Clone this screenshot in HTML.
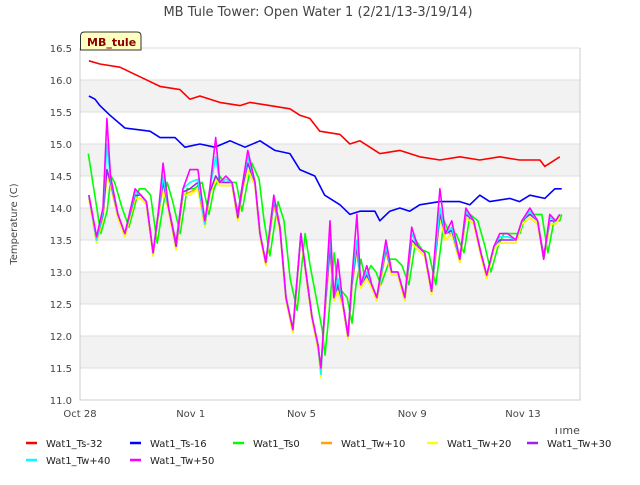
<!DOCTYPE html>
<html><head><meta charset="utf-8"><style>
body{margin:0;background:#fff;font-family:"Liberation Sans","DejaVu Sans",sans-serif}
svg text{font-family:"DejaVu Sans","Liberation Sans",sans-serif}
</style></head><body>
<svg id="c" width="640" height="480" xmlns="http://www.w3.org/2000/svg">
<text x="318" y="16" text-anchor="middle" font-size="13" fill="#444">MB Tule Tower: Open Water 1 (2/21/13-3/19/14)</text>
<g id="bands"></g>
<g id="grid"></g>
<g id="series"></g>
<g id="axes"></g>
<text transform="translate(17,224) rotate(-90)" text-anchor="middle" font-size="10" fill="#444">Temperature (C)</text>
<text x="553" y="434" font-size="11" fill="#444">Time</text>
<rect x="0" y="418" width="640" height="10" fill="#fff"/>
<g>
<path d="M80.5,50 L80.5,36 Q80.5,32 84.5,32 L137,32 Q141,32 141,36 L141,50 Z" fill="#ffffc0" stroke="#333" stroke-width="1"/>
<text x="87" y="46" font-size="11" font-weight="bold" fill="#8b0000">MB_tule</text>
</g>
<g id="legend"></g>
</svg>
<script>
const yTicks=[11.0,11.5,12.0,12.5,13.0,13.5,14.0,14.5,15.0,15.5,16.0,16.5];
const xTickLabels=["Oct 28","Nov 1","Nov 5","Nov 9","Nov 13"];
const xTickDays=[0,4,8,12,16];
const seriesNames=["Wat1_Ts-32","Wat1_Ts-16","Wat1_Ts0","Wat1_Tw+10","Wat1_Tw+20","Wat1_Tw+30","Wat1_Tw+40","Wat1_Tw+50"];
const seriesColors=["#ff0000","#0000ff","#00ff00","#ffa500","#ffff00","#a020f0","#00ffff","#ff00ff"];
const tRed=[0.32,0.72,1.44,2.17,2.89,3.61,3.97,4.33,5.05,5.78,6.14,6.86,7.58,7.94,8.3,8.66,9.39,9.75,10.11,10.47,10.83,11.55,12.27,13.0,13.72,14.44,15.16,15.88,16.61,16.79,17.33];
const vRed=[16.3,16.25,16.2,16.05,15.9,15.85,15.7,15.75,15.65,15.6,15.65,15.6,15.55,15.45,15.4,15.2,15.15,15.0,15.05,14.95,14.85,14.9,14.8,14.75,14.8,14.75,14.8,14.75,14.75,14.65,14.8];
const tBlue=[0.32,0.54,0.72,1.08,1.62,2.53,2.89,3.43,3.79,4.33,4.87,5.42,5.96,6.5,7.04,7.58,7.94,8.48,8.84,9.39,9.75,10.11,10.65,10.83,11.19,11.55,11.91,12.27,13.0,13.72,14.08,14.44,14.8,15.52,15.88,16.25,16.79,17.15,17.4];
const vBlue=[15.75,15.7,15.6,15.45,15.25,15.2,15.1,15.1,14.95,15.0,14.95,15.05,14.95,15.05,14.9,14.85,14.6,14.5,14.2,14.05,13.9,13.95,13.95,13.8,13.95,14.0,13.95,14.05,14.1,14.1,14.05,14.2,14.1,14.15,14.1,14.2,14.15,14.3,14.3];
const tW=[0.32,0.6,0.83,0.97,1.1,1.37,1.62,1.99,2.2,2.4,2.64,2.82,3.0,3.2,3.47,3.72,3.97,4.26,4.51,4.69,4.9,5.05,5.27,5.49,5.7,5.88,6.06,6.32,6.5,6.71,7.0,7.22,7.44,7.69,7.98,8.16,8.38,8.6,8.7,8.81,9.03,9.17,9.31,9.5,9.68,9.82,10.0,10.14,10.36,10.54,10.72,11.05,11.26,11.48,11.73,11.98,12.2,12.45,12.7,13.0,13.2,13.43,13.72,13.94,14.22,14.48,14.69,14.95,15.16,15.45,15.74,15.96,16.25,16.53,16.75,16.97,17.18,17.33];
const tG=[0.3,0.75,0.98,1.12,1.25,1.52,1.77,2.14,2.35,2.55,2.79,2.97,3.15,3.35,3.62,3.87,4.12,4.41,4.66,4.84,5.05,5.2,5.42,5.64,5.85,6.03,6.21,6.47,6.65,6.86,7.15,7.37,7.59,7.84,8.13,8.31,8.53,8.75,8.85,8.96,9.18,9.32,9.46,9.65,9.83,9.97,10.15,10.29,10.51,10.69,10.87,11.2,11.41,11.63,11.88,12.13,12.35,12.6,12.85,13.15,13.35,13.58,13.87,14.09,14.37,14.63,14.84,15.1,15.31,15.6,15.89,16.11,16.4,16.68,16.9,17.12,17.33,17.4];
const vTw50=[14.2,13.55,14.0,15.4,14.5,13.9,13.6,14.3,14.2,14.1,13.3,13.9,14.7,14.0,13.45,14.3,14.6,14.6,13.8,14.3,15.1,14.4,14.5,14.4,13.9,14.4,14.9,14.4,13.6,13.15,14.2,13.7,12.6,12.1,13.6,13.0,12.3,11.85,11.5,12.2,13.8,12.6,13.2,12.5,12.0,12.9,13.9,12.8,13.1,12.8,12.6,13.5,13.0,13.0,12.6,13.7,13.4,13.3,12.7,14.3,13.6,13.8,13.2,14.0,13.8,13.3,12.95,13.4,13.6,13.6,13.5,13.8,14.0,13.8,13.2,13.9,13.8,13.9];
const vTw40=[14.2,13.5,13.95,15.0,14.45,13.9,13.6,14.25,14.2,14.1,13.3,13.9,14.5,14.0,13.45,14.3,14.4,14.45,13.75,14.3,14.8,14.4,14.45,14.4,13.9,14.4,14.8,14.4,13.6,13.15,14.15,13.7,12.6,12.1,13.6,13.0,12.3,11.85,11.4,12.2,13.6,12.6,12.9,12.5,12.0,12.85,13.5,12.8,13.0,12.8,12.6,13.4,13.0,13.0,12.6,13.6,13.4,13.3,12.7,14.0,13.6,13.7,13.2,13.95,13.8,13.3,12.95,13.4,13.55,13.55,13.5,13.8,13.95,13.8,13.2,13.85,13.8,13.9];
const vTw30=[14.2,13.5,13.9,14.6,14.4,13.9,13.6,14.2,14.2,14.1,13.3,13.9,14.4,14.0,13.4,14.25,14.3,14.4,13.75,14.25,14.5,14.4,14.4,14.4,13.85,14.35,14.7,14.4,13.6,13.15,14.1,13.7,12.6,12.1,13.6,13.0,12.3,11.85,11.45,12.2,13.4,12.6,12.8,12.5,12.0,12.8,13.4,12.8,12.95,12.8,12.6,13.35,13.0,13.0,12.6,13.5,13.4,13.3,12.7,13.9,13.6,13.65,13.2,13.9,13.8,13.3,12.95,13.4,13.5,13.5,13.5,13.8,13.9,13.8,13.25,13.8,13.8,13.9];
const vTw20=[14.15,13.45,13.85,14.5,14.35,13.85,13.55,14.15,14.15,14.05,13.25,13.85,14.3,13.95,13.35,14.2,14.2,14.3,13.7,14.2,14.45,14.35,14.35,14.35,13.8,14.3,14.6,14.35,13.55,13.1,14.05,13.65,12.55,12.05,13.55,12.95,12.25,11.8,11.35,12.15,13.35,12.55,12.7,12.45,11.95,12.75,13.35,12.75,12.9,12.75,12.55,13.3,12.95,12.95,12.55,13.45,13.35,13.25,12.65,13.85,13.5,13.6,13.15,13.85,13.75,13.25,12.9,13.35,13.45,13.45,13.45,13.75,13.85,13.75,13.2,13.75,13.75,13.85];
const vTw10=[14.15,13.45,13.85,14.5,14.35,13.85,13.55,14.15,14.15,14.05,13.25,13.85,14.3,13.95,13.35,14.2,14.25,14.3,13.7,14.2,14.45,14.35,14.35,14.35,13.8,14.3,14.6,14.35,13.55,13.1,14.05,13.65,12.55,12.05,13.55,12.95,12.25,11.8,11.38,12.15,13.35,12.55,12.7,12.45,11.95,12.75,13.35,12.75,12.9,12.75,12.55,13.3,12.95,12.95,12.55,13.45,13.35,13.25,12.65,13.85,13.5,13.6,13.15,13.85,13.75,13.25,12.9,13.35,13.45,13.45,13.45,13.75,13.85,13.75,13.2,13.75,13.75,13.85];
const vTs0=[14.85,13.6,13.95,14.5,14.4,14.0,13.7,14.3,14.3,14.2,13.45,13.95,14.4,14.1,13.6,14.3,14.3,14.4,13.9,14.3,14.5,14.4,14.4,14.4,13.95,14.35,14.7,14.45,13.8,13.25,14.1,13.8,12.9,12.4,13.6,13.1,12.6,12.1,11.7,12.2,13.3,12.7,12.7,12.6,12.2,12.8,13.2,12.9,13.1,13.0,12.8,13.2,13.2,13.1,12.8,13.5,13.35,13.3,12.8,13.8,13.6,13.6,13.3,13.9,13.8,13.4,13.0,13.4,13.6,13.6,13.6,13.9,13.9,13.9,13.3,13.8,13.8,13.9];
const X0=80,X1=580,Y0=400,Y1=48,DMAX=18.06,VMIN=11,VMAX=16.5;
const xs=d=>X0+d/DMAX*(X1-X0);
const ys=v=>Y0-(v-VMIN)/(VMAX-VMIN)*(Y0-Y1);
const NS="http://www.w3.org/2000/svg";
function mk(tag,parent,attrs){const e=document.createElementNS(NS,tag);for(const k in attrs)e.setAttribute(k,attrs[k]);parent.appendChild(e);return e;}
const bands=document.getElementById('bands'),grid=document.getElementById('grid'),axes=document.getElementById('axes'),ser=document.getElementById('series'),leg=document.getElementById('legend');
for(let i=0;i<yTicks.length-1;i++){
  if(i%2===1){const r=mk('rect',bands,{x:X0,y:ys(yTicks[i+1]),width:X1-X0,height:ys(yTicks[i])-ys(yTicks[i+1]),fill:'#f2f2f2'});
  
  }
}
yTicks.forEach(v=>{
  const l=mk('line',grid,{x1:X0,x2:X1,y1:ys(v),y2:ys(v),stroke:'#dddddd','stroke-width':1});
  
  
  const t=mk('text',axes,{x:X0-8,y:ys(v)+4,'text-anchor':'end','font-size':10,fill:'#444'});
  t.textContent=v.toFixed(1);
  
  
});
xTickDays.forEach((d,i)=>{
  const t=mk('text',axes,{x:xs(d),y:Y0+17,'text-anchor':'middle','font-size':10,fill:'#444'});
  t.textContent=xTickLabels[i];
  
  
});
const ax=mk('path',axes,{d:`M${X0},${Y1} L${X0},${Y0} L${X1},${Y0} L${X1},${Y1}`,fill:'none',stroke:'#cccccc','stroke-width':1});


const data=[[tRed,vRed],[tBlue,vBlue],[tG,vTs0],[tW,vTw10],[tW,vTw20],[tW,vTw30],[tW,vTw40],[tW,vTw50]];
const order=[0,1,2,3,4,5,6,7];
order.forEach(i=>{
  const [t,v]=data[i];
  const d=t.map((tt,j)=>(j?'L':'M')+xs(tt).toFixed(1)+','+ys(v[j]).toFixed(1)).join(' ');
  const p=mk('path',ser,{d:d,fill:'none',stroke:seriesColors[i],'stroke-width':1.6,'stroke-linejoin':'round'});
  
  
});
const legX=[26,130,233,321,427,527,26,130],legY=[443,443,443,443,443,443,460,460];
seriesNames.forEach((n,i)=>{
  const g=mk('g',leg,{});
  
  
  mk('line',g,{x1:legX[i],x2:legX[i]+11,y1:legY[i],y2:legY[i],stroke:seriesColors[i],'stroke-width':2.5});
  const t=mk('text',g,{x:legX[i]+20,y:legY[i]+4,'font-size':10,fill:'#222'});
  t.textContent=n;
});
</script>
</body></html>
